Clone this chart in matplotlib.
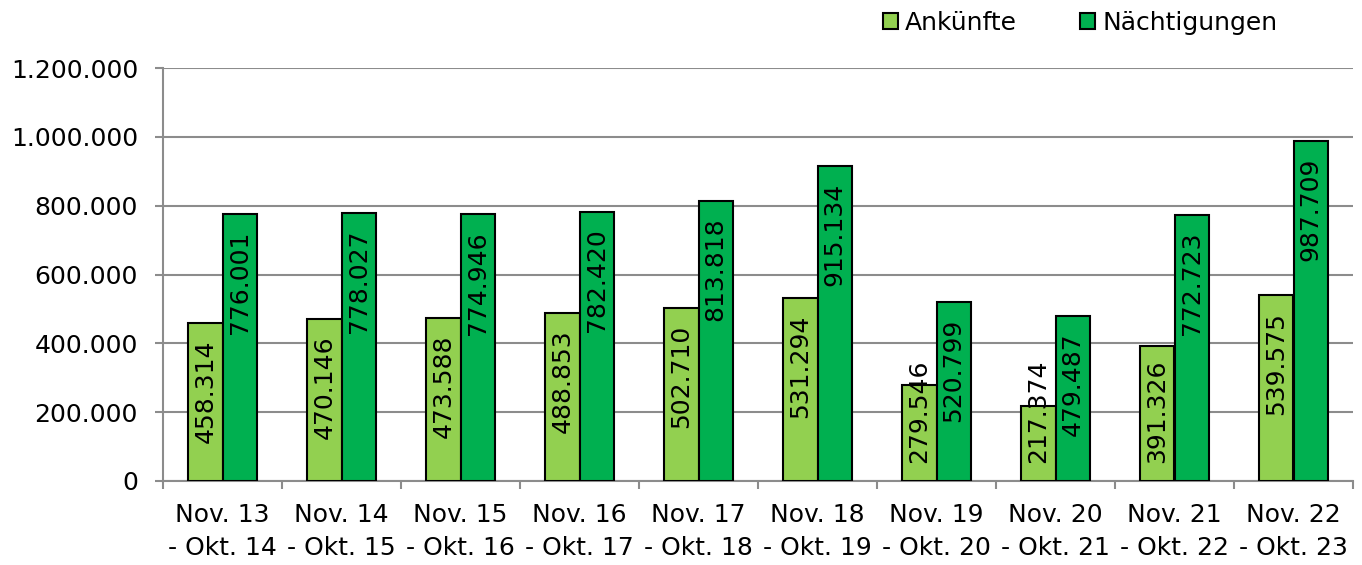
import matplotlib
matplotlib.use("Agg")
import matplotlib.pyplot as plt
import numpy as np
from matplotlib.ticker import FuncFormatter, FixedLocator

plt.rcParams['font.family'] = ['DejaVu Sans']

categories = ["Nov. 13\n- Okt. 14", "Nov. 14\n- Okt. 15", "Nov. 15\n- Okt. 16",
              "Nov. 16\n- Okt. 17", "Nov. 17\n- Okt. 18", "Nov. 18\n- Okt. 19",
              "Nov. 19\n- Okt. 20", "Nov. 20\n- Okt. 21", "Nov. 21\n- Okt. 22",
              "Nov. 22\n- Okt. 23"]
ankuenfte = [458314, 470146, 473588, 488853, 502710, 531294, 279546, 217374, 391326, 539575]
naechtigungen = [776001, 778027, 774946, 782420, 813818, 915134, 520799, 479487, 772723, 987709]
series_names = ["Ankünfte", "Nächtigungen"]
colors = ["#92D050", "#00B050"]

def fmt(v):
    return f"{int(round(v)):,}".replace(",", ".")

fig = plt.figure(figsize=(13.62, 5.65), dpi=100)
ax = fig.add_axes([163/1362, 1-481/565, (1353-163)/1362, (481-68)/565])

x = np.arange(len(categories))
w = 0.286
b1 = ax.bar(x - w/2, ankuenfte, w, color=colors[0], edgecolor="black", linewidth=1.5, zorder=3, label=series_names[0])
b2 = ax.bar(x + w/2, naechtigungen, w, color=colors[1], edgecolor="black", linewidth=1.5, zorder=3, label=series_names[1])

ax.set_xlim(-0.5, len(categories) - 0.5)
ax.set_ylim(0, 1200000)
ax.set_yticks(np.arange(0, 1200001, 200000))
ax.yaxis.set_major_formatter(FuncFormatter(lambda v, p: fmt(v)))
ax.grid(axis="y", color="#8c8c8c", linewidth=1.5, zorder=0)
ax.set_axisbelow(True)

ax.set_xticks(x)
ax.set_xticklabels(categories, fontsize=18, linespacing=1.45)
ax.xaxis.set_minor_locator(FixedLocator(np.arange(-0.5, len(categories), 1.0)))
ax.tick_params(axis="x", which="major", length=0, pad=16)
ax.tick_params(axis="x", which="minor", length=6, width=1.5, color="#8c8c8c", direction="out")
ax.tick_params(axis="y", which="major", length=6, width=1.5, color="#8c8c8c", labelsize=18, pad=12)

for s in ["top", "right"]:
    ax.spines[s].set_visible(False)
for s in ["left", "bottom"]:
    ax.spines[s].set_color("#8c8c8c")
    ax.spines[s].set_linewidth(1.5)

# data labels: inside end, pushed up from base if they do not fit
fig.canvas.draw()
renderer = fig.canvas.get_renderer()
base_px = ax.transData.transform((0, 0))[1]
for bars, vals in ((b1, ankuenfte), (b2, naechtigungen)):
    for rect, v in zip(bars, vals):
        cx = rect.get_x() + rect.get_width()/2
        t = ax.annotate(fmt(v), (cx, v), xytext=(0, -12), textcoords="offset points",
                        rotation=90, ha="center", va="top", fontsize=18, zorder=5)
        bb = t.get_window_extent(renderer)
        if bb.y0 < base_px + 18:
            t.remove()
            ax.annotate(fmt(v), (cx, 0), xytext=(0, 13), textcoords="offset points",
                        rotation=90, ha="center", va="bottom", fontsize=18, zorder=5)

fig.legend(handles=[b1, b2], labels=series_names, loc="center",
           bbox_to_anchor=(1080/1362, 1-23/565), ncol=2, frameon=False, fontsize=18,
           handlelength=0.6, handleheight=0.6, handletextpad=0.3, columnspacing=2.5,
           borderpad=0, borderaxespad=0)

fig.savefig("out.png", dpi=100)
